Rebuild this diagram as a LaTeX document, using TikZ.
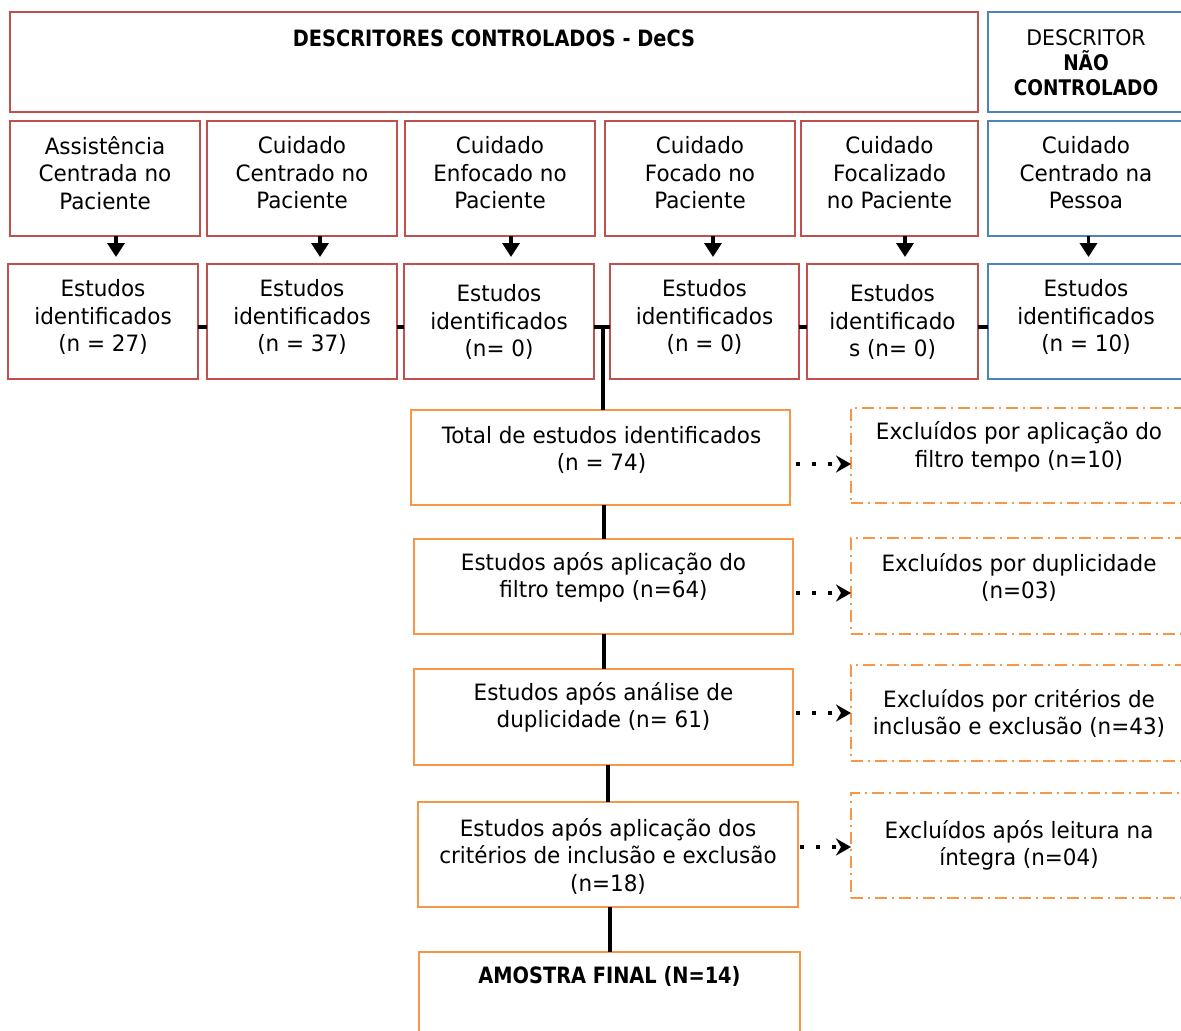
\documentclass[tikz,border=0pt]{standalone}
\usepackage{fontspec}
\setmainfont{DejaVu Sans}[FakeStretch=0.955, BoldFeatures={FakeStretch=0.86}]
\usetikzlibrary{arrows.meta,calc}
\definecolor{cred}{HTML}{C0504D}
\definecolor{cblue}{HTML}{4F81BD}
\definecolor{corange}{HTML}{F79646}
\tikzset{
  bx/.style={draw, line width=2pt, inner sep=0pt, outer sep=0pt},
  redbox/.style={bx, draw=cred},
  bluebox/.style={bx, draw=cblue},
  orbox/.style={bx, draw=corange},
  exbox/.style={bx, draw=corange, dash pattern=on 12pt off 5pt on 2pt off 5pt},
  txt/.style={align=center, inner sep=0pt, font=\fontsize{22.5}{27.5}\selectfont},
  conn/.style={line width=4pt, draw=black},
  downarr/.style={line width=3.5pt, -{Triangle[width=17pt,length=14pt]}, shorten >=7pt},
  dotarr/.style={line width=4pt, dash pattern=on 4pt off 12pt, -{Stealth[width=17pt,length=15pt,inset=5pt]}},
}
\newcommand\mkbox[6]{%
  \pgfmathsetmacro\bw{#5-#3}\pgfmathsetmacro\bh{#6-#4}%
  \node[#1, minimum width=\bw pt, minimum height=\bh pt] (#2) at ({(#3+#5)/2},{(#4+#6)/2}) {};}
\begin{document}
\begin{tikzpicture}[x=1pt,y=-1pt]
\useasboundingbox (0,0) rectangle (1181,1031);
\clip (0,0) rectangle (1181,1031);
% header boxes
\mkbox{redbox}{decs}{10}{12}{978}{112}
\mkbox{bluebox}{nc}{988}{12}{1187}{112}
\node[txt, font=\fontsize{22.5}{27.5}\selectfont\bfseries] (decst) at (494,38) {DESCRITORES CONTROLADOS - DeCS};
\node[txt, font=\fontsize{21.5}{25}\selectfont] (nct) at (1086,63) {DESCRITOR\\\textbf{NÃO}\\\textbf{CONTROLADO}};
% row 2
\mkbox{redbox}{a1}{10}{121}{200}{236}
\mkbox{redbox}{a2}{207}{121}{397}{236}
\mkbox{redbox}{a3}{405}{121}{595}{236}
\mkbox{redbox}{a4}{605}{121}{795}{236}
\mkbox{redbox}{a5}{801}{121}{978}{236}
\mkbox{bluebox}{a6}{988}{121}{1187}{236}
\node[txt] (a1t) at (105,173) {Assistência\\Centrada no\\Paciente};
\node[txt] (a2t) at (302,173) {Cuidado\\Centrado no\\Paciente};
\node[txt] (a3t) at (500,173) {Cuidado\\Enfocado no\\Paciente};
\node[txt] (a4t) at (700,173) {Cuidado\\Focado no\\Paciente};
\node[txt] (a5t) at (889.5,173) {Cuidado\\Focalizado\\no Paciente};
\node[txt] (a6t) at (1086,173) {Cuidado\\Centrado na\\Pessoa};
% row 3
\mkbox{redbox}{b1}{8}{264}{198}{379}
\mkbox{redbox}{b2}{207}{264}{397}{379}
\mkbox{redbox}{b3}{404}{264}{594}{379}
\mkbox{redbox}{b4}{610}{264}{799}{379}
\mkbox{redbox}{b5}{807}{264}{978}{379}
\mkbox{bluebox}{b6}{988}{264}{1187}{379}
\node[txt] (b1t) at (103,317) {Estudos\\identificados\\(n = 27)};
\node[txt] (b2t) at (302,317) {Estudos\\identificados\\(n = 37)};
\node[txt] (b3t) at (499,322) {Estudos\\identificados\\(n= 0)};
\node[txt] (b4t) at (704.5,317) {Estudos\\identificados\\(n = 0)};
\node[txt] (b5t) at (892.5,322) {Estudos\\identificado\\s (n= 0)};
\node[txt] (b6t) at (1086,317) {Estudos\\identificados\\(n = 10)};
% arrows row2 -> row3
\draw[downarr] ([xshift=11pt]a1.south) -- ([xshift=11pt]a1.south |- b1.north);
\draw[downarr] ([xshift=18pt]a2.south) -- ([xshift=18pt]a2.south |- b2.north);
\draw[downarr] ([xshift=11pt]a3.south) -- ([xshift=11pt]a3.south |- b3.north);
\draw[downarr] ([xshift=13pt]a4.south) -- ([xshift=13pt]a4.south |- b4.north);
\draw[downarr] ([xshift=15.5pt]a5.south) -- ([xshift=15.5pt]a5.south |- b5.north);
\draw[downarr] ([xshift=1pt]a6.south) -- ([xshift=1pt]a6.south |- b6.north);
% row 3 junction line
\coordinate (m) at (0,327);
\coordinate (j) at (603,327);
\draw[conn] (b1.east |- m) -- (b2.west |- m);
\draw[conn] (b2.east |- m) -- (b3.west |- m);
\draw[conn] (b3.east |- m) -- (b4.west |- m);
\draw[conn] (b4.east |- m) -- (b5.west |- m);
\draw[conn] (b5.east |- m) -- (b6.west |- m);
% main flow
\mkbox{orbox}{t1}{411}{410}{790}{505}
\mkbox{orbox}{t2}{414}{539}{793}{634}
\mkbox{orbox}{t3}{414}{669}{793}{765}
\mkbox{orbox}{t4}{418}{802}{798}{907}
\mkbox{orbox}{t5}{419}{952}{800}{1045}
\node[txt] (t1t) at (601.5,450) {Total de estudos identificados\\(n = 74)};
\node[txt] (t2t) at (603.5,577.5) {Estudos após aplicação do\\filtro tempo (n=64)};
\node[txt] (t3t) at (603.5,707.5) {Estudos após análise de\\duplicidade (n= 61)};
\node[txt] (t4t) at (608,856) {Estudos após aplicação dos\\critérios de inclusão e exclusão\\(n=18)};
\node[txt, font=\fontsize{22.5}{27.5}\selectfont\bfseries] (t5t) at (609.5,976) {AMOSTRA FINAL (N=14)};
\draw[conn] ([yshift=2pt]j) -- (j |- t1.north);
\draw[conn] (t2.north) -- (t2.north |- t1.south);
\draw[conn] (t3.north) -- (t3.north |- t2.south);
\draw[conn] (t4.north) -- (t4.north |- t3.south);
\draw[conn] (t5.north) -- (t5.north |- t4.south);
% exclusion boxes
\mkbox{exbox}{e1}{851}{408}{1187}{503}
\mkbox{exbox}{e2}{851}{538}{1187}{634}
\mkbox{exbox}{e3}{851}{665}{1187}{761}
\mkbox{exbox}{e4}{851}{793}{1187}{898}
\node[txt] (e1t) at (1019,447) {Excluídos por aplicação do\\filtro tempo (n=10)};
\node[txt] (e2t) at (1019,577.5) {Excluídos por duplicidade\\(n=03)};
\node[txt] (e3t) at (1019,713.5) {Excluídos por critérios de\\inclusão e exclusão (n=43)};
\node[txt] (e4t) at (1019,845.5) {Excluídos após leitura na\\íntegra (n=04)};
% dotted arrows
\draw[dotarr] ([xshift=6pt,yshift=-6.5pt]t1.east) -- ([yshift=-6.5pt]t1.east -| e1.west);
\draw[dotarr] ([xshift=3pt,yshift=-6.5pt]t2.east) -- ([yshift=-6.5pt]t2.east -| e2.west);
\draw[dotarr] ([xshift=3pt,yshift=4pt]t3.east) -- ([yshift=4pt]t3.east -| e3.west);
\draw[dotarr] ([xshift=2pt,yshift=7.5pt]t4.east) -- ([yshift=7.5pt]t4.east -| e4.west);
\end{tikzpicture}
\end{document}
